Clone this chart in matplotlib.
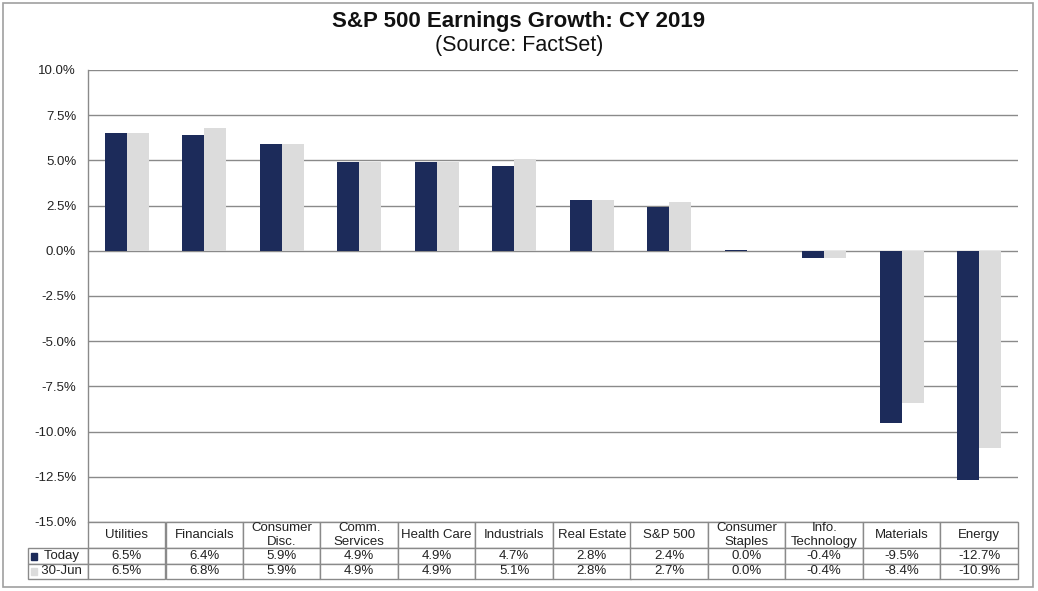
import matplotlib
matplotlib.use('Agg')
import matplotlib.pyplot as plt
from matplotlib.patches import Rectangle
import numpy as np

plt.rcParams['font.family'] = ['Liberation Sans', 'DejaVu Sans']

sectors = ['Utilities', 'Financials', 'Consumer\nDisc.', 'Comm.\nServices', 'Health Care',
           'Industrials', 'Real Estate', 'S&P 500', 'Consumer\nStaples', 'Info.\nTechnology',
           'Materials', 'Energy']
today = [6.5, 6.4, 5.9, 4.9, 4.9, 4.7, 2.8, 2.4, 0.04, -0.4, -9.5, -12.7]
jun30 = [6.5, 6.8, 5.9, 4.9, 4.9, 5.1, 2.8, 2.7, 0.0, -0.4, -8.4, -10.9]
series_names = ['Today', '30-Jun']
yticks = [10.0, 7.5, 5.0, 2.5, 0.0, -2.5, -5.0, -7.5, -10.0, -12.5, -15.0]

DARK = '#1c2b5a'
LIGHT = '#dcdcdc'
GRID = '#8a8a8a'

W, H = 1038, 591
fig = plt.figure(figsize=(W / 100, H / 100), dpi=100)
# plot area in pixels: x 88..1018, y 70..522
L, R, T, B = 88, 1018, 70, 522
ax = fig.add_axes([L / W, 1 - B / H, (R - L) / W, (B - T) / H])

x = np.arange(len(sectors))
bw = 0.285
ax.bar(x - bw / 2, today, bw, color=DARK, zorder=3)
ax.bar(x + bw / 2, jun30, bw, color=LIGHT, zorder=3)

ax.set_xlim(-0.5, len(sectors) - 0.5)
ax.set_ylim(-15, 10)
ax.set_yticks(yticks)
ax.set_yticklabels([f'{v:.1f}%' for v in yticks], fontsize=9.5, color='#222222')
ax.tick_params(axis='y', length=0, pad=8.5)
ax.set_xticks([])
ax.grid(axis='y', color=GRID, linewidth=1, zorder=0)
for s in ['top', 'right', 'bottom']:
    ax.spines[s].set_visible(False)
ax.spines['left'].set_color(GRID)
ax.spines['left'].set_linewidth(1)

# data table below the plot (first column holds the series names)
aw, ah = R - L, B - T
rows = [['  ' + series_names[0]] + [f'{v:.1f}%' for v in today],
        ['  ' + series_names[1]] + [f'{v:.1f}%' for v in jun30]]
tbl = ax.table(cellText=rows, colLabels=[''] + sectors, cellLoc='center',
               colWidths=[60 / aw] + [77.5 / aw] * len(sectors),
               bbox=[(28 - L) / aw, -57 / ah, 990 / aw, 57 / ah])
tbl.auto_set_font_size(False)
tbl.set_fontsize(9.5)
for (r, c), cell in tbl.get_celld().items():
    cell.set_edgecolor(GRID)
    cell.set_linewidth(1)
    cell.set_height((26 if r == 0 else 15.5) / ah)
    cell.get_text().set_color('#222222')
    if c == 0:
        if r == 0:
            cell.visible_edges = ''
        else:
            cell._loc = 'left'
            cell.PAD = 0.02

# legend keys in the row labels
for i, col in enumerate([DARK, LIGHT]):
    yc = 556 + i * 15.5
    fig.patches.append(Rectangle((31 / W, 1 - (yc + 3.5) / H), 6 / W, 7 / H,
                                 transform=fig.transFigure, color=col))

# outer frame
fig.patches.append(Rectangle((3 / W, 1 - 587 / H), 1030 / W, 584 / H,
                             transform=fig.transFigure, fill=False,
                             edgecolor='#a0a0a0', linewidth=1.2))

fig.text(0.5, 1 - 21 / H, 'S&P 500 Earnings Growth: CY 2019', ha='center', va='center',
         fontsize=16, fontweight='bold', color='#111111')
fig.text(0.5, 1 - 46 / H, '(Source: FactSet)', ha='center', va='center',
         fontsize=15.5, color='#111111')

fig.savefig('out.png', dpi=100)
